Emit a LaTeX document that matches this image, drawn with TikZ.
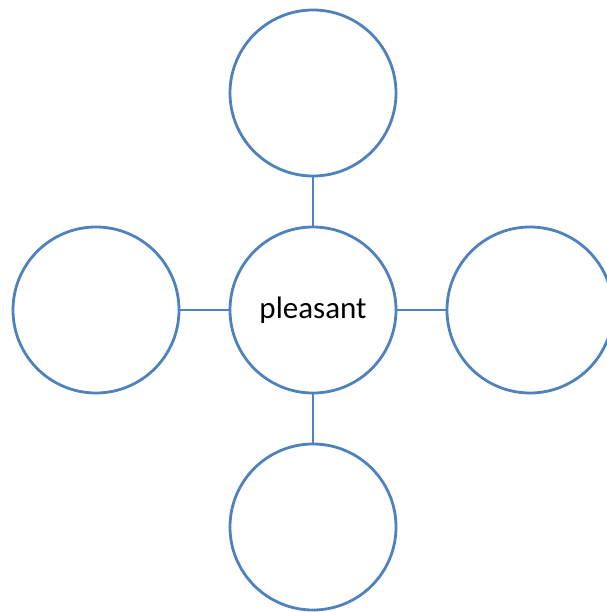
\documentclass[tikz,border=0pt]{standalone}
\usepackage{fontspec}
\setmainfont{Carlito}
\usetikzlibrary{positioning}

\definecolor{ringblue}{RGB}{79,129,189}

\begin{document}
\begin{tikzpicture}[x=1pt,y=1pt,
        ring/.style={circle, draw=ringblue, line width=2.8pt, minimum size=166pt, inner sep=0pt, font=\fontsize{31}{36}\selectfont},
        link/.style={draw=ringblue, line width=2.8pt}]
        % Fix the page size
        \useasboundingbox (0,0) rectangle (606,-612);
        % Distance between the circle centres
        \def\d{217}

        % Draw the circles
        \node[ring] (centre) at (313,-310) {pleasant};
        \node[ring] (top) at (313,{-310+\d}) {};
        \node[ring] (bottom) at (313,{-310-\d}) {};
        \node[ring] (left) at ({313-\d},-310) {};
        \node[ring] (right) at ({313+\d},-310) {};

        % Draw the links
        \draw[link] (centre) -- (top);
        \draw[link] (centre) -- (bottom);
        \draw[link] (centre) -- (left);
        \draw[link] (centre) -- (right);
\end{tikzpicture}
\end{document}
